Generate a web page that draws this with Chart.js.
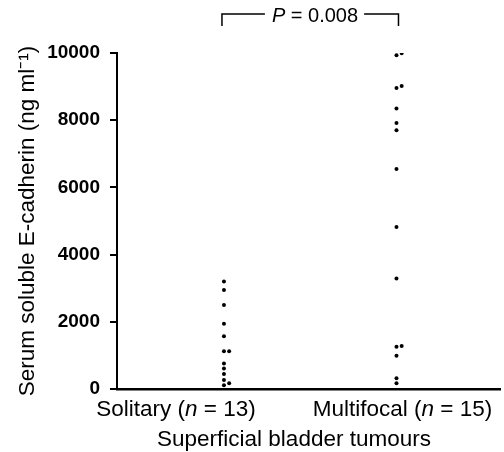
<!DOCTYPE html>
<html>
<head>
<meta charset="utf-8">
<script src="https://cdn.jsdelivr.net/npm/chart.js@4.4.1/dist/chart.umd.min.js"></script>
<style>
html, body { margin: 0; padding: 0; background: #ffffff; }
#wrap { width: 504px; height: 452px; }
</style>
</head>
<body>
<div id="wrap"><canvas id="cadherin"></canvas></div>
<script>

// ================= DATA =================

const groups = ["Solitary", "Multifocal"];

const groupN = [13, 15];

// serum soluble E-cadherin, ng/ml
const solitary = [3200, 2950, 2500, 1940, 1570, 1120, 1120, 760, 610, 450, 270, 170, 110];

const solitaryJitter = [0, 0, 0, 0, 0, 0, 1, 0, 0, 0, 0, 1, 0];

const multifocal = [9990, 9930, 9020, 8960, 8350, 7920, 7700, 6550, 4820, 3290, 1280, 1260, 990, 320, 170];

const multifocalJitter = [1, 0, 1, 0, 0, 0, 0, 0, 0, 0, 1, 0, 0, 0, 0];

const yTicks = [0, 2000, 4000, 6000, 8000, 10000];

const pValue = "0.008";


const FONT = "'Liberation Sans', Arial, Helvetica, sans-serif";

function points(values, jitter, pos){
  return values.map(function(v, i){
    return { x: pos + jitter[i] * 0.03, y: v };
  });
}

// draws text with italic pieces, centred on x
function richText(ctx, parts, x, y, size){
  let total = 0;
  parts.forEach(function(p){
    ctx.font = (p.it ? "italic " : "") + size + "px " + FONT;
    p.w = ctx.measureText(p.t).width;
    total += p.w;
  });
  let cx = x - total / 2;
  parts.forEach(function(p){
    ctx.font = (p.it ? "italic " : "") + size + "px " + FONT;
    ctx.fillText(p.t, cx, y);
    cx += p.w;
  });
  return total;
}

const annotations = {
  id: "annotations",
  afterDraw: function(chart){
    const ctx = chart.ctx;
    const xs = chart.scales.x;
    ctx.save();
    ctx.fillStyle = "#000";
    ctx.strokeStyle = "#000";
    ctx.textBaseline = "middle";
    ctx.textAlign = "left";

    // category labels
    const shift = [-48, 6];
    groups.forEach(function(g, i){
      const px = xs.getPixelForValue(i + 1) + shift[i];
      richText(ctx, [
        { t: g + " (" },
        { t: "n", it: true },
        { t: " = " + groupN[i] + ")" }
      ], px, 410, 22.5);
    });

    // axis title
    richText(ctx, [{ t: "Superficial bladder tumours" }], 294, 440, 22.5);

    // significance bracket
    const x1 = xs.getPixelForValue(1) - 2;
    const x2 = xs.getPixelForValue(2) + 2;
    const mid = 315;
    const w = richText(ctx, [{ t: "P", it: true }, { t: " = " + pValue }], mid, 16, 20);
    ctx.lineWidth = 1.5;
    ctx.beginPath();
    ctx.moveTo(x1, 26);
    ctx.lineTo(x1, 14);
    ctx.lineTo(mid - w / 2 - 7, 14);
    ctx.moveTo(mid + w / 2 + 6, 14);
    ctx.lineTo(x2, 14);
    ctx.lineTo(x2, 26);
    ctx.stroke();
    ctx.restore();
  }
};


// ================= CHART =================

const cadherin = document.getElementById("cadherin");

new Chart(cadherin, {

  type: "scatter",

  data: {
    datasets: [{
      label: groups[0],
      data: points(solitary, solitaryJitter, 1),
      backgroundColor: "#000",
      borderWidth: 0,
      pointRadius: 2
    }, {
      label: groups[1],
      data: points(multifocal, multifocalJitter, 2),
      backgroundColor: "#000",
      borderWidth: 0,
      pointRadius: 2
    }]
  },

  options: {
    responsive: true,
    maintainAspectRatio: false,
    animation: false,
    layout: {
      padding: { top: 53, right: 0, bottom: 0, left: 0 }
    },
    plugins: {
      legend: { display: false },
      tooltip: { enabled: false }
    },
    scales: {
      x: {
        type: "linear",
        min: 0.38,
        max: 2.6,
        ticks: { display: false },
        grid: { display: false },
        border: { display: true, color: "#000", width: 2.5 },
        afterFit: function(scale){ scale.height = 63; }
      },
      y: {
        min: 0,
        max: 10000,
        afterBuildTicks: function(scale){
          scale.ticks = yTicks.map(function(v){ return { value: v }; });
        },
        ticks: {
          color: "#000",
          padding: 10,
          font: { family: FONT, size: 19, weight: "bold" },
          callback: function(v){ return String(v); }
        },
        grid: {
          drawOnChartArea: false,
          drawTicks: true,
          tickLength: 7,
          color: "#000",
          lineWidth: 2
        },
        border: { display: true, color: "#000", width: 2 },
        title: {
          display: true,
          text: "Serum soluble E-cadherin (ng ml\u207B\u00B9)",
          color: "#000",
          font: { family: FONT, size: 22.5 },
          padding: { top: 14, bottom: 4 }
        },
        afterFit: function(scale){ scale.width = 117; }
      }
    }
  },

  plugins: [annotations]

});

</script>
</body>
</html>
